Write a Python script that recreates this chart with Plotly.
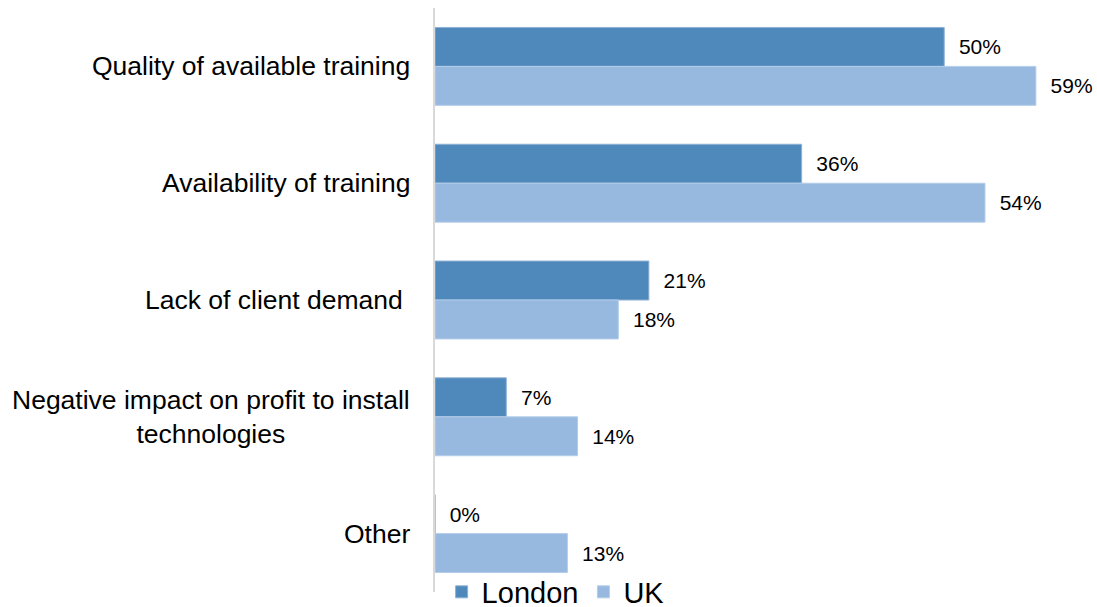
import plotly.graph_objects as go

categories = [
    "Quality of available training",
    "Availability of training",
    "Lack of client demand ",
    "Negative impact on profit to install<br>technologies",
    "Other",
]
london = [50, 36, 21, 7, 0]
uk = [59, 54, 18, 14, 13]

LONDON_COL = "#4F88BB"
UK_COL = "#97B9E0"

fig = go.Figure()
fig.add_trace(go.Bar(
    name="London", y=categories, x=london, orientation="h",
    marker=dict(color=LONDON_COL, line=dict(color="#8FB1D6", width=1)),
    texttemplate="\u00a0\u00a0%{x}%", textposition="outside",
    textfont=dict(size=21, color="#000000"), cliponaxis=False,
))
fig.add_trace(go.Bar(
    name="UK", y=categories, x=uk, orientation="h",
    marker=dict(color=UK_COL, line=dict(color="#B5CDE9", width=1)),
    texttemplate="\u00a0\u00a0%{x}%", textposition="outside",
    textfont=dict(size=21, color="#000000"), cliponaxis=False,
))

# category labels as annotations so multi-line text is centred
for cat in categories:
    fig.add_annotation(
        x=0, xref="paper", y=cat, yref="y", text=cat, showarrow=False,
        xanchor="right", xshift=-23, align="center",
        font=dict(size=26.5, color="#000000"),
    )

fig.update_layout(
    width=1097, height=607,
    margin=dict(l=435, r=0, t=8, b=15, autoexpand=False),
    plot_bgcolor="white", paper_bgcolor="white",
    font=dict(family="Liberation Sans, Arial, sans-serif", color="#000000"),
    barmode="group", bargap=0.333, bargroupgap=0,
    xaxis=dict(range=[0, 65], visible=False, showgrid=False, zeroline=False),
    yaxis=dict(autorange="reversed", showticklabels=False, showgrid=False,
               showline=True, linecolor="#D9D9D9", linewidth=2, ticks=""),
    legend=dict(orientation="h", x=0.01, xanchor="left", y=0.0,
                yanchor="middle", font=dict(size=29),
                bgcolor="rgba(0,0,0,0)", itemwidth=30),
    showlegend=True,
)

fig.write_html("out.html", config={"displayModeBar": False},
               post_script="document.body.style.margin='0';")
